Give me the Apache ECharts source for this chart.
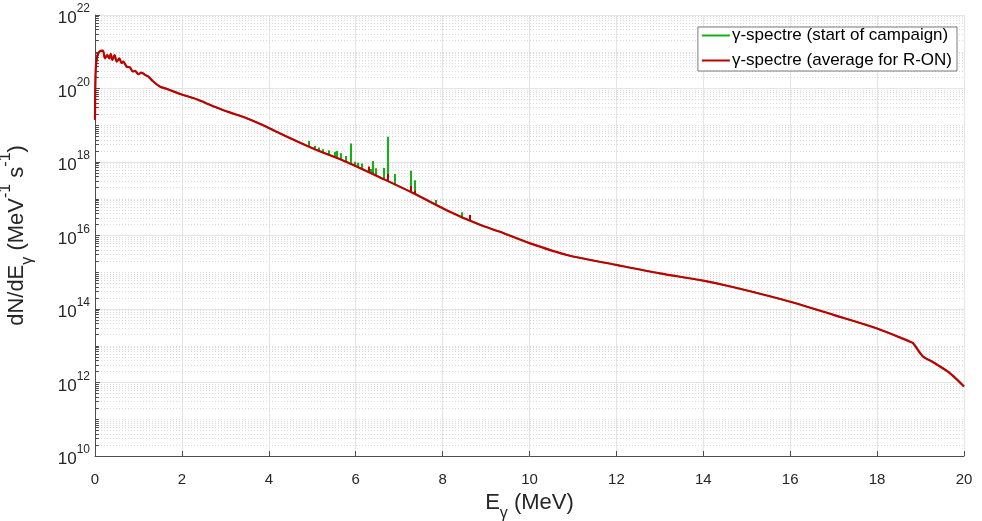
<!DOCTYPE html>
<html>
<head>
<meta charset="utf-8">
<script src="https://cdn.jsdelivr.net/npm/echarts@6/dist/echarts.min.js"></script>
<style>
  html, body { margin: 0; padding: 0; background: #fff; }
  #chart { width: 982px; height: 521px; }
</style>
</head>
<body>
<div id="chart"></div>
<script>
// Gamma spectrum continuum (MeV, MeV^-1 s^-1)
const energy = [0, 0.016, 0.05, 0.1, 0.18, 0.23, 0.28, 0.33, 0.36, 0.40, 0.45, 0.50, 0.56, 0.61, 0.65,
  0.73, 0.80, 0.87, 0.92, 1.00, 1.07, 1.15, 1.23, 1.34, 1.50, 1.65, 1.96, 2.34, 2.72, 3.10, 3.49,
  3.87, 4.26, 5.02, 5.79, 6.56, 7.33, 8.09, 8.86, 9.32, 10.0, 10.86, 12.0, 13.0, 14.0, 14.7, 16.0,
  17.0, 18.0, 18.76, 18.83, 19.05, 19.3, 19.68, 20.0];
const flux = [1.4e19, 3.2e20, 7.4e20, 1.0e21, 1.07e21, 6.6e20, 8.1e20, 6.6e20, 8.7e20, 6.0e20, 8.1e20,
  5.4e20, 6.6e20, 4.9e20, 5.4e20, 3.9e20, 3.8e20, 2.9e20, 3.0e20, 2.45e20, 2.7e20, 2.35e20, 2.1e20,
  1.55e20, 1.12e20, 9.8e19, 7.1e19, 5.1e19, 3.3e19, 2.24e19, 1.55e19, 1.0e19, 6.0e18, 2.34e18,
  1.0e18, 3.8e17, 1.41e17, 4.9e16, 1.95e16, 1.26e16, 6.2e15, 2.95e15, 1.58e15, 9.3e14, 5.9e14,
  3.9e14, 1.58e14, 6.9e13, 2.95e13, 1.29e13, 1.17e13, 5.2e12, 3.5e12, 1.78e12, 7.8e11];

// Discrete lines at start of campaign
const startLineE = [4.91, 5.05, 5.16, 5.24, 5.39, 5.52, 5.56, 5.65, 5.78, 5.88, 5.98, 6.04, 6.14,
  6.34, 6.40, 6.46, 6.65, 6.73, 6.90, 7.26, 7.35, 7.85, 8.44];
const startLineTop = [3.7e18, 2.75e18, 2.5e18, 2.24e18, 2.1e18, 1.9e18, 2.0e18, 1.74e18, 1.45e18,
  3.2e18, 1.02e18, 9.5e17, 9.1e17, 6.5e17, 1.07e18, 6.8e17, 6.9e17, 4.9e18, 4.7e17, 5.8e17, 3.2e17,
  9.3e16, 4.3e16];
const startLineBase = [2.7e18, 2.3e18, 2.0e18, 1.82e18, 1.55e18, 1.35e18, 1.3e18, 1.17e18, 1.0e18,
  9.0e17, 7.9e17, 7.4e17, 6.5e17, 5.0e17, 4.7e17, 4.4e17, 3.4e17, 3.1e17, 2.45e17, 1.55e17, 1.38e17,
  6.8e16, 3.2e16];

// Discrete lines, R-ON average
const avgLineE = [6.29, 6.73, 7.26, 7.35, 8.63];
const avgLineTop = [7.6e17, 4.7e17, 2.24e17, 1.66e17, 3.6e16];
const avgLineBase = [5.4e17, 3.1e17, 1.55e17, 1.38e17, 2.6e16];

const nameStart = 'γ-spectre (start of campaign)';
const nameAvg = 'γ-spectre (average for R-ON)';
const GREEN = '#13b113';
const RED = '#bf0000';
const FONT = '"Liberation Sans", Arial, Helvetica, sans-serif';
const TXT = '#262626';

// Minor decade grid (2..9 x 10^n, plus odd decades)
const minorVals = [];
for (let n = 10; n < 22; n++) {
  for (let k = 1; k <= 9; k++) {
    if (k === 1 && n % 2 === 0) continue;
    minorVals.push(k * Math.pow(10, n));
  }
}
const minorGrid = minorVals.map(v => ({
  yAxis: v,
  lineStyle: { color: '#d9d9d9', type: [1, 2], width: 1 }
}));
const minorTicks = minorVals.map(v => [
  { coord: [0, v], lineStyle: { color: '#4d4d4d', type: 'solid', width: 1 } },
  { coord: [0.09, v] }
]);

const curve = energy.map((e, i) => [e, flux[i]]);
const startLines = startLineE.map((e, i) => ({ coords: [[e, startLineBase[i]], [e, startLineTop[i]]] }));
const avgLines = avgLineE.map((e, i) => ({ coords: [[e, avgLineBase[i]], [e, avgLineTop[i]]] }));

const chart = echarts.init(document.getElementById('chart'), null, { renderer: 'canvas' });
chart.setOption({
  animation: false,
  backgroundColor: '#ffffff',
  grid: { left: 95, right: 18, top: 15, bottom: 65, containLabel: false, outerBoundsMode: 'none' },
  legend: {
    data: [{ name: nameStart, icon: 'rect' }, { name: nameAvg, icon: 'rect' }],
    orient: 'vertical',
    right: 25,
    top: 27,
    itemWidth: 28,
    itemHeight: 2,
    itemGap: 8,
    padding: [0, 5, 2, 4],
    borderColor: '#7a7a7a',
    borderWidth: 1,
    backgroundColor: '#ffffff',
    textStyle: { color: '#000', fontSize: 17, fontFamily: FONT, padding: [0, 0, 0, -3] }
  },
  xAxis: {
    type: 'value',
    min: 0,
    max: 20,
    interval: 2,
    name: '{n|E}{sub|γ}{n| (MeV)}',
    nameLocation: 'middle',
    nameGap: 31,
    nameTextStyle: {
      rich: {
        n: { fontSize: 22, color: TXT, fontFamily: FONT, lineHeight: 30, verticalAlign: 'top' },
        sub: { fontSize: 16, color: TXT, fontFamily: FONT, lineHeight: 30, verticalAlign: 'bottom' }
      }
    },
    axisLine: { lineStyle: { color: '#4d4d4d', width: 1 } },
    axisTick: { inside: true, length: 5, lineStyle: { color: '#4d4d4d' } },
    axisLabel: { color: TXT, fontSize: 15, fontFamily: FONT, margin: 16 },
    splitLine: { show: true, lineStyle: { color: '#e4e4e4', width: 1 } }
  },
  yAxis: {
    type: 'log',
    logBase: 10,
    min: 1e10,
    max: 1e22,
    interval: 2,
    name: '{n|dN/dE}{sub|γ}{n| (MeV}{sup|-1}{n| s}{sup|-1}{n|)}',
    nameLocation: 'middle',
    nameGap: 59,
    nameTextStyle: {
      rich: {
        n: { fontSize: 22, color: TXT, fontFamily: FONT, lineHeight: 38, verticalAlign: 'middle' },
        sub: { fontSize: 16, color: TXT, fontFamily: FONT, lineHeight: 38, verticalAlign: 'bottom' },
        sup: { fontSize: 16, color: TXT, fontFamily: FONT, lineHeight: 38, verticalAlign: 'top' }
      }
    },
    axisLine: { show: true, lineStyle: { color: '#4d4d4d', width: 1 } },
    axisTick: { show: true, inside: true, length: 5, lineStyle: { color: '#4d4d4d' } },
    axisLabel: {
      margin: 5,
      formatter: v => '{b|10}{s|' + Math.round(Math.log10(v)) + '}',
      rich: {
        b: { fontSize: 17, color: TXT, fontFamily: FONT, lineHeight: 24, verticalAlign: 'bottom' },
        s: { fontSize: 12, color: TXT, fontFamily: FONT, lineHeight: 24, verticalAlign: 'top' }
      }
    },
    splitLine: { show: true, lineStyle: { color: '#e4e4e4', width: 1 } }
  },
  series: [
    {
      // carrier for minor grid lines and minor ticks
      type: 'line',
      data: [],
      z: 1,
      silent: true,
      markLine: {
        z: 1,
        silent: true,
        symbol: 'none',
        label: { show: false },
        animation: false,
        data: minorGrid.concat(minorTicks)
      }
    },
    {
      name: nameStart,
      type: 'line',
      data: curve,
      z: 3,
      smooth: 0.3,
      showSymbol: false,
      symbol: 'none',
      color: GREEN,
      lineStyle: { color: GREEN, width: 1.5 }
    },
    {
      name: nameStart,
      type: 'lines',
      coordinateSystem: 'cartesian2d',
      z: 3,
      data: startLines,
      lineStyle: { color: GREEN, width: 2, opacity: 1 }
    },
    {
      name: nameAvg,
      type: 'line',
      data: curve,
      z: 4,
      smooth: 0.3,
      showSymbol: false,
      symbol: 'none',
      color: RED,
      lineStyle: { color: RED, width: 2.2 }
    },
    {
      name: nameAvg,
      type: 'lines',
      coordinateSystem: 'cartesian2d',
      z: 4,
      data: avgLines,
      lineStyle: { color: RED, width: 2, opacity: 1 }
    }
  ]
});
</script>
</body>
</html>
